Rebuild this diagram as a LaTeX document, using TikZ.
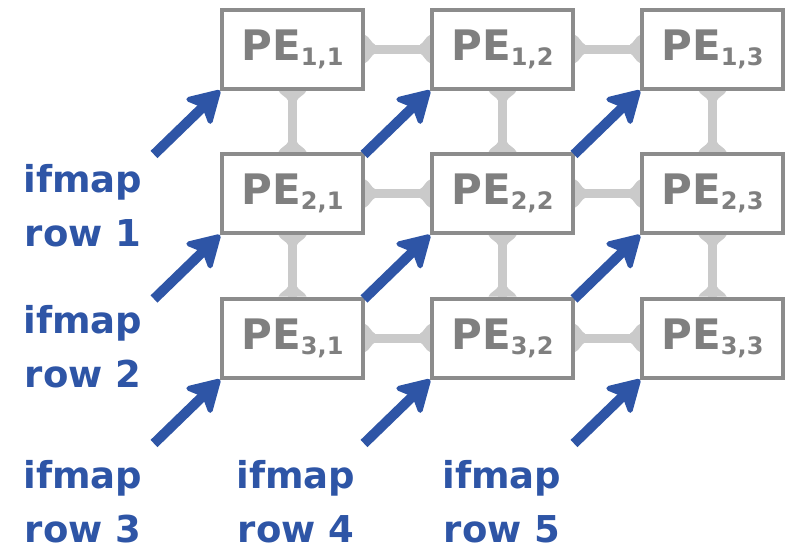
\documentclass[tikz,border=0pt]{standalone}
\usepackage{fontspec}
\setmainfont{DejaVu Sans}
\usetikzlibrary{arrows.meta,backgrounds}
\definecolor{peblue}{HTML}{2E55A6}
\definecolor{boxgray}{HTML}{8C8C8C}
\definecolor{textgray}{HTML}{7F7F7F}
\definecolor{linkgray}{HTML}{CACACA}
\newcommand{\pelabel}[1]{{\fontsize{42}{42}\selectfont PE}\raisebox{-5pt}{\fontsize{24}{24}\selectfont #1}}
\begin{document}
\begin{tikzpicture}[x=1pt,y=-1pt,
  pebox/.style={draw=boxgray,line width=4pt,fill=white,minimum width=141pt,minimum height=79pt,inner sep=0pt,text=textgray,font=\bfseries},
  link/.style={draw=linkgray,line width=9pt},
  feed/.style={draw=peblue,line width=10pt,-{Stealth[length=36pt,width=42pt,inset=9pt,round,line width=5pt]}},
  lbl/.style={text=peblue,font=\bfseries\fontsize{37}{54}\selectfont,align=center,inner sep=0pt,anchor=north},
  flare/.pic={\fill[linkgray] (0,-14) .. controls (4,-13) and (7,-5) .. (10,-4.5) -- (10,4.5) .. controls (7,5) and (4,13) .. (0,14) -- cycle;}
]
\useasboundingbox (0,0) rectangle (791,550);
\foreach \r/\y in {1/49,2/193.5,3/338}
  \foreach \c/\x in {1/292.5,2/502.5,3/712.5}
    \node[pebox] (p\r\c) at (\x,\y) {\pelabel{\r,\c}};
\begin{scope}[on background layer]
  \foreach \r in {1,2,3}
    \foreach \c/\n in {1/2,2/3} {
      \draw[link] (p\r\c.east) -- (p\r\n.west);
      \pic[rotate=0] at (p\r\c.east) {flare};
      \pic[rotate=180] at (p\r\n.west) {flare};
    }
  \foreach \c in {1,2,3}
    \foreach \r/\n in {1/2,2/3} {
      \draw[link] (p\r\c.south) -- (p\n\c.north);
      \pic[rotate=-90] at (p\r\c.south) {flare};
      \pic[rotate=90] at (p\n\c.north) {flare};
    }
\end{scope}
\foreach \r in {1,2,3}
  \foreach \c in {1,2,3} {
    \path (p\r\c.south west) ++(-66,64) coordinate (t\r\c);
    \draw[feed] (t\r\c) -- (p\r\c.south west);
  }
\node[lbl] (l1) at (83,164) {ifmap\\row 1};
\node[lbl] (l2) at (83,305) {ifmap\\row 2};
\node[lbl] (l3) at (83,460) {ifmap\\row 3};
\node[lbl] (l4) at (296,460) {ifmap\\row 4};
\node[lbl] (l5) at (502,460) {ifmap\\row 5};
\end{tikzpicture}
\end{document}
